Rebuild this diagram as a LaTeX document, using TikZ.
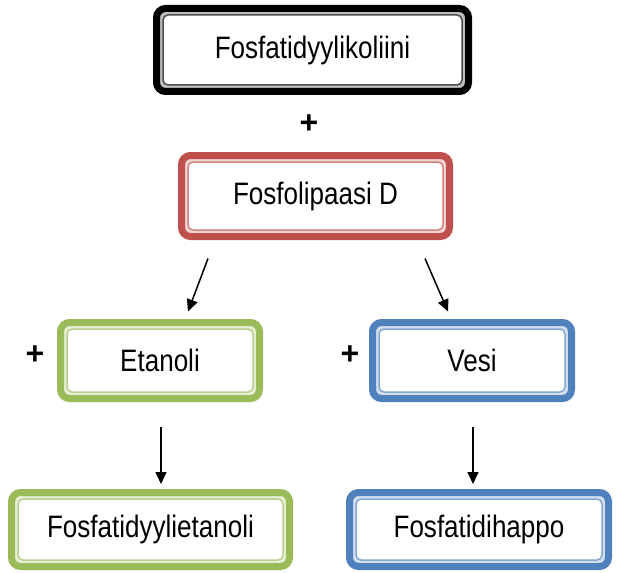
\documentclass[tikz,border=0pt]{standalone}
\usepackage{fontspec}
\setmainfont{Liberation Sans}
\newfontfamily\boxfont[FakeStretch=0.84]{Liberation Sans}
\usetikzlibrary{arrows.meta,calc}
\definecolor{offred}{HTML}{C0504D}
\definecolor{offgreen}{HTML}{9BBB59}
\definecolor{offblue}{HTML}{4F81BD}
\tikzset{
 outerbox/.style={draw=#1, fill=#1!25, line width=7pt, rounded corners=9pt, inner sep=0pt, shape=rectangle},
 innerbox/.style={draw=#1!70, fill=white, line width=1.5pt, rounded corners=5pt, inner sep=0pt, shape=rectangle, font=\boxfont\fontsize{31}{34}\selectfont},
 arr/.style={line width=1.5pt, -{Triangle[length=12pt,width=11pt]}},
 plus/.style={font=\bfseries\fontsize{32}{32}\selectfont, inner sep=0pt}
}
\newcommand\flowbox[7]{%
 \node[outerbox=#6, minimum width={#4-7}, minimum height={#5-7}] (#1) at (#2,#3) {};
 \node[innerbox=#6, minimum width={#4-20}, minimum height={#5-20}] (#1t) at (#1.center) {#7};
}
\begin{document}
\begin{tikzpicture}[x=1pt,y=-1pt]
\fill[white] (0,0) rectangle (617,572);
\useasboundingbox (0,0) rectangle (617,572);
\flowbox{b1}{312.5}{50}{319}{90}{black}{Fosfatidyylikoliini}
\flowbox{b2}{315.5}{196}{275}{88}{offred}{Fosfolipaasi D}
\flowbox{b3}{160}{360.5}{206}{83}{offgreen}{Etanoli}
\flowbox{b4}{472}{360.5}{206}{83}{offblue}{Vesi}
\flowbox{b5}{150.5}{529.5}{285}{81}{offgreen}{Fosfatidyylietanoli}
\flowbox{b6}{479}{529.5}{266}{81}{offblue}{Fosfatidihappo}
\node[plus] (p1) at (309,124) {+};
\node[plus] (p2) at (35,355) {+};
\node[plus] (p3) at (350,355) {+};
\draw[arr] ($(b2.south)+(-107.5,18.5)$) -- ($(b3.north)+(28,-7.5)$);
\draw[arr] ($(b2.south)+(109.5,18.5)$) -- ($(b4.north)+(-24,-7.5)$);
\draw[arr] ($(b3.south)+(1,24.5)$) -- ($(b3.south)+(1,82)$);
\draw[arr] ($(b4.south)+(1,24.5)$) -- ($(b4.south)+(1,82)$);
\end{tikzpicture}
\end{document}
